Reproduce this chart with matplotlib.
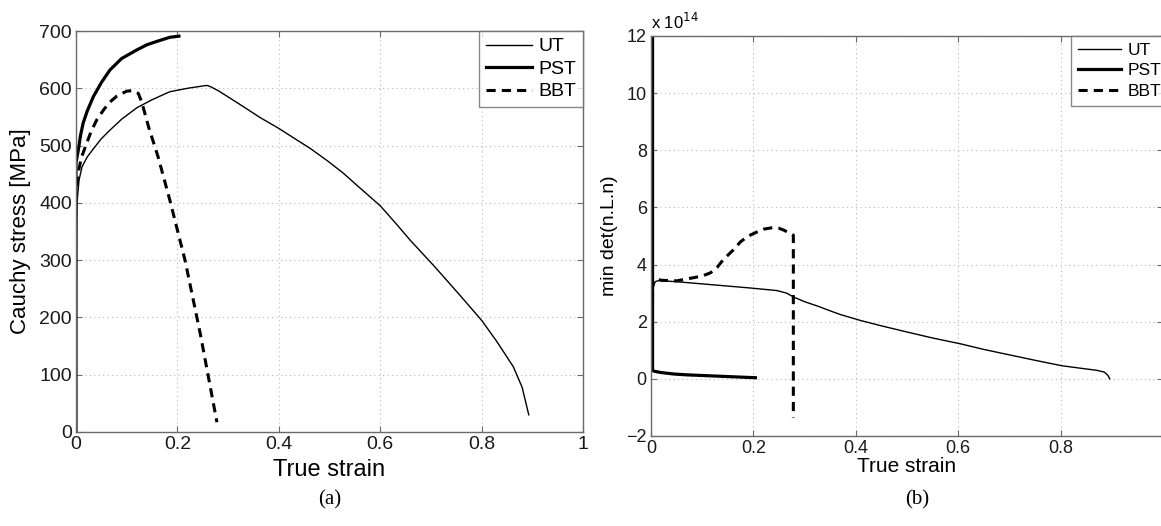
import matplotlib
matplotlib.use("Agg")
import matplotlib.pyplot as plt

# ---------------- data: panel (a) Cauchy stress vs true strain ----------------
ut_strain_a = [0, 0.001, 0.002, 0.006, 0.012, 0.022, 0.034, 0.05, 0.067, 0.09, 0.12, 0.15,
               0.185, 0.22, 0.25, 0.258, 0.265, 0.28, 0.3, 0.33, 0.363, 0.4, 0.43, 0.462,
               0.495, 0.527, 0.56, 0.6, 0.63, 0.659, 0.705, 0.757, 0.8, 0.83, 0.8625,
               0.88, 0.893]
ut_stress_a = [0, 360, 400, 440, 463, 480, 494, 512, 527, 546, 566, 580,
               594, 600, 604, 605, 603, 596, 585, 568, 549, 530, 513, 495,
               474, 452, 426, 395, 365, 335, 291, 239, 195, 158, 114,
               78, 30]

pst_strain_a = [0, 0, 0.0045, 0.009, 0.014, 0.022, 0.034, 0.05, 0.067, 0.09, 0.12,
                0.14, 0.16, 0.185, 0.203]
pst_stress_a = [0, 470, 492, 518, 539, 560, 585, 610, 632, 652, 667,
                676, 682, 689, 691]

bbt_strain_a = [0.002, 0.006, 0.011, 0.021, 0.03, 0.041, 0.055, 0.067, 0.08, 0.1, 0.112,
                0.123, 0.13, 0.143, 0.162, 0.185, 0.215, 0.245, 0.278]
bbt_stress_a = [430, 460, 480, 504, 525, 545, 563, 576, 586, 595, 596,
                591, 575, 533, 480, 405, 300, 172, 17]

# ---------------- data: panel (b) min det(n.L.n) (x 1e14) vs true strain ----------------
ut_strain_b = [0.0045, 0.0045, 0.008, 0.015, 0.05, 0.109, 0.194, 0.246, 0.265, 0.279, 0.3,
               0.325, 0.35, 0.37, 0.41, 0.449, 0.5, 0.55, 0.606, 0.65, 0.7, 0.75, 0.802,
               0.84, 0.87, 0.885, 0.892, 0.896]
ut_det_b = [2.57, 3.2, 3.4, 3.44, 3.4, 3.31, 3.18, 3.09, 3.0, 2.86, 2.7,
            2.55, 2.38, 2.25, 2.04, 1.86, 1.64, 1.43, 1.22, 1.03, 0.84, 0.65, 0.46,
            0.37, 0.3, 0.24, 0.13, 0.0]

pst_strain_b = [0.003, 0.003, 0.008, 0.02, 0.044, 0.07, 0.11, 0.15, 0.204]
pst_det_b = [12.5, 0.29, 0.26, 0.22, 0.17, 0.14, 0.11, 0.08, 0.04]

bbt_strain_b = [0.003, 0.003, 0.02, 0.05, 0.083, 0.1, 0.116, 0.13, 0.141, 0.16, 0.175,
                0.19, 0.207, 0.22, 0.237, 0.25, 0.26, 0.278, 0.278]
bbt_det_b = [2.7, 3.54, 3.45, 3.43, 3.54, 3.6, 3.71, 3.92, 4.17, 4.5, 4.8,
             5.0, 5.14, 5.24, 5.29, 5.27, 5.2, 5.03, -1.36]

legend_labels = ["UT", "PST", "BBT"]
xticks_a = [0, 0.2, 0.4, 0.6, 0.8, 1]
xticklabels_a = ["0", "0.2", "0.4", "0.6", "0.8", "1"]
yticks_a = [0, 100, 200, 300, 400, 500, 600, 700]
xticks_b = [0, 0.2, 0.4, 0.6, 0.8]
xticklabels_b = ["0", "0.2", "0.4", "0.6", "0.8"]
yticks_b = [-2, 0, 2, 4, 6, 8, 10, 12]

plt.rcParams['font.family'] = ['Liberation Sans', 'DejaVu Sans']

W, H = 1161, 526
fig = plt.figure(figsize=(W / 100, H / 100), dpi=100)

spine_col = "#6a6a6a"
grid_kw = dict(color="#b8b8b8", linestyle=(0, (1, 3)), linewidth=0.8)
dash = (0, (3, 2))


def style(ax, fs):
    for s in ax.spines.values():
        s.set_color(spine_col)
        s.set_linewidth(1.0)
    ax.tick_params(direction="in", top=True, right=True, length=4, width=0.8,
                   color=spine_col, labelsize=fs, labelcolor="#1a1a1a", pad=3)
    ax.grid(True, **grid_kw)
    ax.set_axisbelow(True)


# ---------------- panel (a) ----------------
ax1 = fig.add_axes([76 / W, 1 - 432 / H, (583 - 76) / W, (432 - 31) / H])
ax1.plot(ut_strain_a, ut_stress_a, color="black", lw=1.0, label=legend_labels[0])
ax1.plot(pst_strain_a, pst_stress_a, color="black", lw=2.3, label=legend_labels[1])
ax1.plot(bbt_strain_a, bbt_stress_a, color="black", lw=2.2, linestyle=dash, label=legend_labels[2])
ax1.set_xlim(0, 1)
ax1.set_ylim(0, 700)
ax1.set_xticks(xticks_a)
ax1.set_xticklabels(xticklabels_a)
ax1.set_yticks(yticks_a)
style(ax1, 14)
ax1.set_xlabel("True strain", fontsize=17, labelpad=4)
ax1.set_ylabel("Cauchy stress [MPa]", fontsize=16, labelpad=6)
leg1 = ax1.legend(loc="upper right", fontsize=14, frameon=True, fancybox=False,
                  borderaxespad=0, handlelength=2.4, handletextpad=0.3,
                  labelspacing=0.25, borderpad=0.35)
leg1.get_frame().set_edgecolor(spine_col)
leg1.get_frame().set_linewidth(1.0)

# ---------------- panel (b) ----------------
ax2 = fig.add_axes([651 / W, 1 - 436 / H, 512 / W, (436 - 36) / H])
ax2.plot(ut_strain_b, ut_det_b, color="black", lw=1.0, label=legend_labels[0])
ax2.plot(pst_strain_b, pst_det_b, color="black", lw=2.3, label=legend_labels[1])
ax2.plot(bbt_strain_b, bbt_det_b, color="black", lw=2.2, linestyle=dash, label=legend_labels[2])
ax2.set_xlim(0, 1)
ax2.set_ylim(-2, 12)
ax2.set_xticks(xticks_b)
ax2.set_xticklabels(xticklabels_b)
ax2.set_yticks(yticks_b)
ax2.set_yticklabels([str(v) if v >= 0 else "\u22122" for v in yticks_b])
style(ax2, 13)
ax2.set_xlabel("True strain", fontsize=15, labelpad=0)
ax2.set_ylabel("min det(n.L.n)", fontsize=14, labelpad=6)
ax2.text(0.0, 1.01, "x 10$^{14}$", transform=ax2.transAxes, fontsize=12,
         ha="left", va="bottom")
leg2 = ax2.legend(loc="upper left", bbox_to_anchor=((1071 - 651) / 512, 1.0), fontsize=12.5,
                  frameon=True, fancybox=False, borderaxespad=0, handlelength=2.5,
                  handletextpad=0.35, labelspacing=0.3, borderpad=0.4)
leg2.get_frame().set_edgecolor(spine_col)
leg2.get_frame().set_linewidth(1.0)

# captions
fig.text(330 / W, 1 - 500 / H, "(a)", fontsize=15, family=["Liberation Serif"],
         ha="center", va="center")
fig.text(917 / W, 1 - 500 / H, "(b)", fontsize=15, family=["Liberation Serif"],
         ha="center", va="center")

fig.savefig("out.png", dpi=100)
